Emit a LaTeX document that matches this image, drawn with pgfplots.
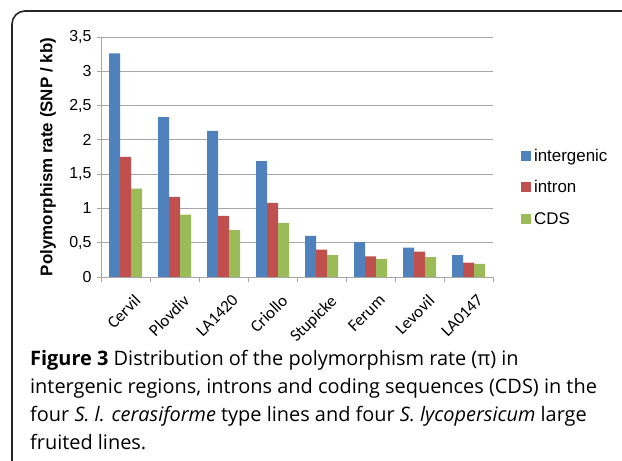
\documentclass[border=0pt]{standalone}
\usepackage{pgfplots}
\pgfplotsset{compat=1.18}
\usepackage{fontspec}
\setmainfont{Open Sans}
\newfontfamily\arial{Liberation Sans}
\newfontfamily\calib{Carlito}
\definecolor{cblue}{HTML}{4F81BD}
\definecolor{cred}{HTML}{C0504D}
\definecolor{cgreen}{HTML}{9BBB59}
\definecolor{gridc}{HTML}{A6A6A6}
\begin{document}
\begin{tikzpicture}[x=1bp,y=1bp]
\useasboundingbox (0,0) rectangle (622,461);
\clip (0,0) rectangle (622,461);
\draw[line width=1.6bp, black!85] (12,-20) -- (12,437) arc[start angle=180,end angle=90,radius=13] -- (640,450);
\begin{axis}[
  at={(101bp,184bp)}, anchor=south west,
  scale only axis, width=392bp, height=240bp,
  xmin=-0.5, xmax=7.5, ymin=0, ymax=3.5,
  ybar=0pt, bar width=11bp,
  axis lines*=left,
  axis line style={gridc, line width=0.8bp},
  ymajorgrids, grid style={gridc, line width=0.8bp},
  ytick={0,0.5,...,3.5},
  yticklabels={0,{0,5},1,{1,5},2,{2,5},3,{3,5}},
  yticklabel style={font=\arial\fontsize{16}{16}\selectfont, xshift=-2bp},
  xtick={0,...,7},
  xticklabels={Cervil,Plovdiv,LA1420,Criollo,Stupicke,Ferum,Levovil,LA0147},
  xticklabel style={font=\calib\fontsize{17}{17}\selectfont, rotate=45, anchor=north east, xshift=0bp, yshift=-11bp},
  minor xtick={-0.5,0.5,...,7.5},
  major x tick style={draw=none},
  minor x tick style={gridc, line width=0.8bp},
  major y tick style={gridc, line width=0.8bp},
  tick align=outside,
  major tick length=4bp, minor tick length=5bp,
  ylabel={\bfseries Polymorphism rate (SNP / kb)},
  every axis y label/.style={at={(-53bp,120bp)}, rotate=90, anchor=center, font=\arial\fontsize{17}{17}\selectfont},
  legend style={at={(1.071,0.535)}, anchor=north west, draw=none, fill=none,
    inner sep=0pt, font=\arial\fontsize{17}{17}\selectfont, row sep=18bp,
    cells={anchor=west}, nodes={inner xsep=3bp, inner ysep=0pt}},
]
\addplot[fill=cblue, draw=none, legend image code/.code={\fill[cblue] (0bp,-5bp) rectangle (10bp,5bp);}] coordinates {(0,3.26) (1,2.33) (2,2.13) (3,1.69) (4,0.60) (5,0.51) (6,0.43) (7,0.32)};
\addplot[fill=cred, draw=none, legend image code/.code={\fill[cred] (0bp,-5bp) rectangle (10bp,5bp);}] coordinates {(0,1.75) (1,1.17) (2,0.89) (3,1.08) (4,0.40) (5,0.30) (6,0.37) (7,0.21)};
\addplot[fill=cgreen, draw=none, legend image code/.code={\fill[cgreen] (0bp,-5bp) rectangle (10bp,5bp);}] coordinates {(0,1.29) (1,0.91) (2,0.685) (3,0.79) (4,0.32) (5,0.26) (6,0.29) (7,0.19)};
\legend{intergenic,intron,CDS}
\end{axis}
\begin{scope}[every node/.style={anchor=base west, inner sep=0pt, font=\fontsize{20}{20}\selectfont}]
\node at (30,95) {\textbf{Figure 3} Distribution of the polymorphism rate (π) in};
\node at (30,67) {intergenic regions, introns and coding sequences (CDS) in the};
\node at (30,39) {four \textit{S. l. cerasiforme} type lines and four \textit{S. lycopersicum} large};
\node at (30,11) {fruited lines.};
\end{scope}
\end{tikzpicture}
\end{document}
